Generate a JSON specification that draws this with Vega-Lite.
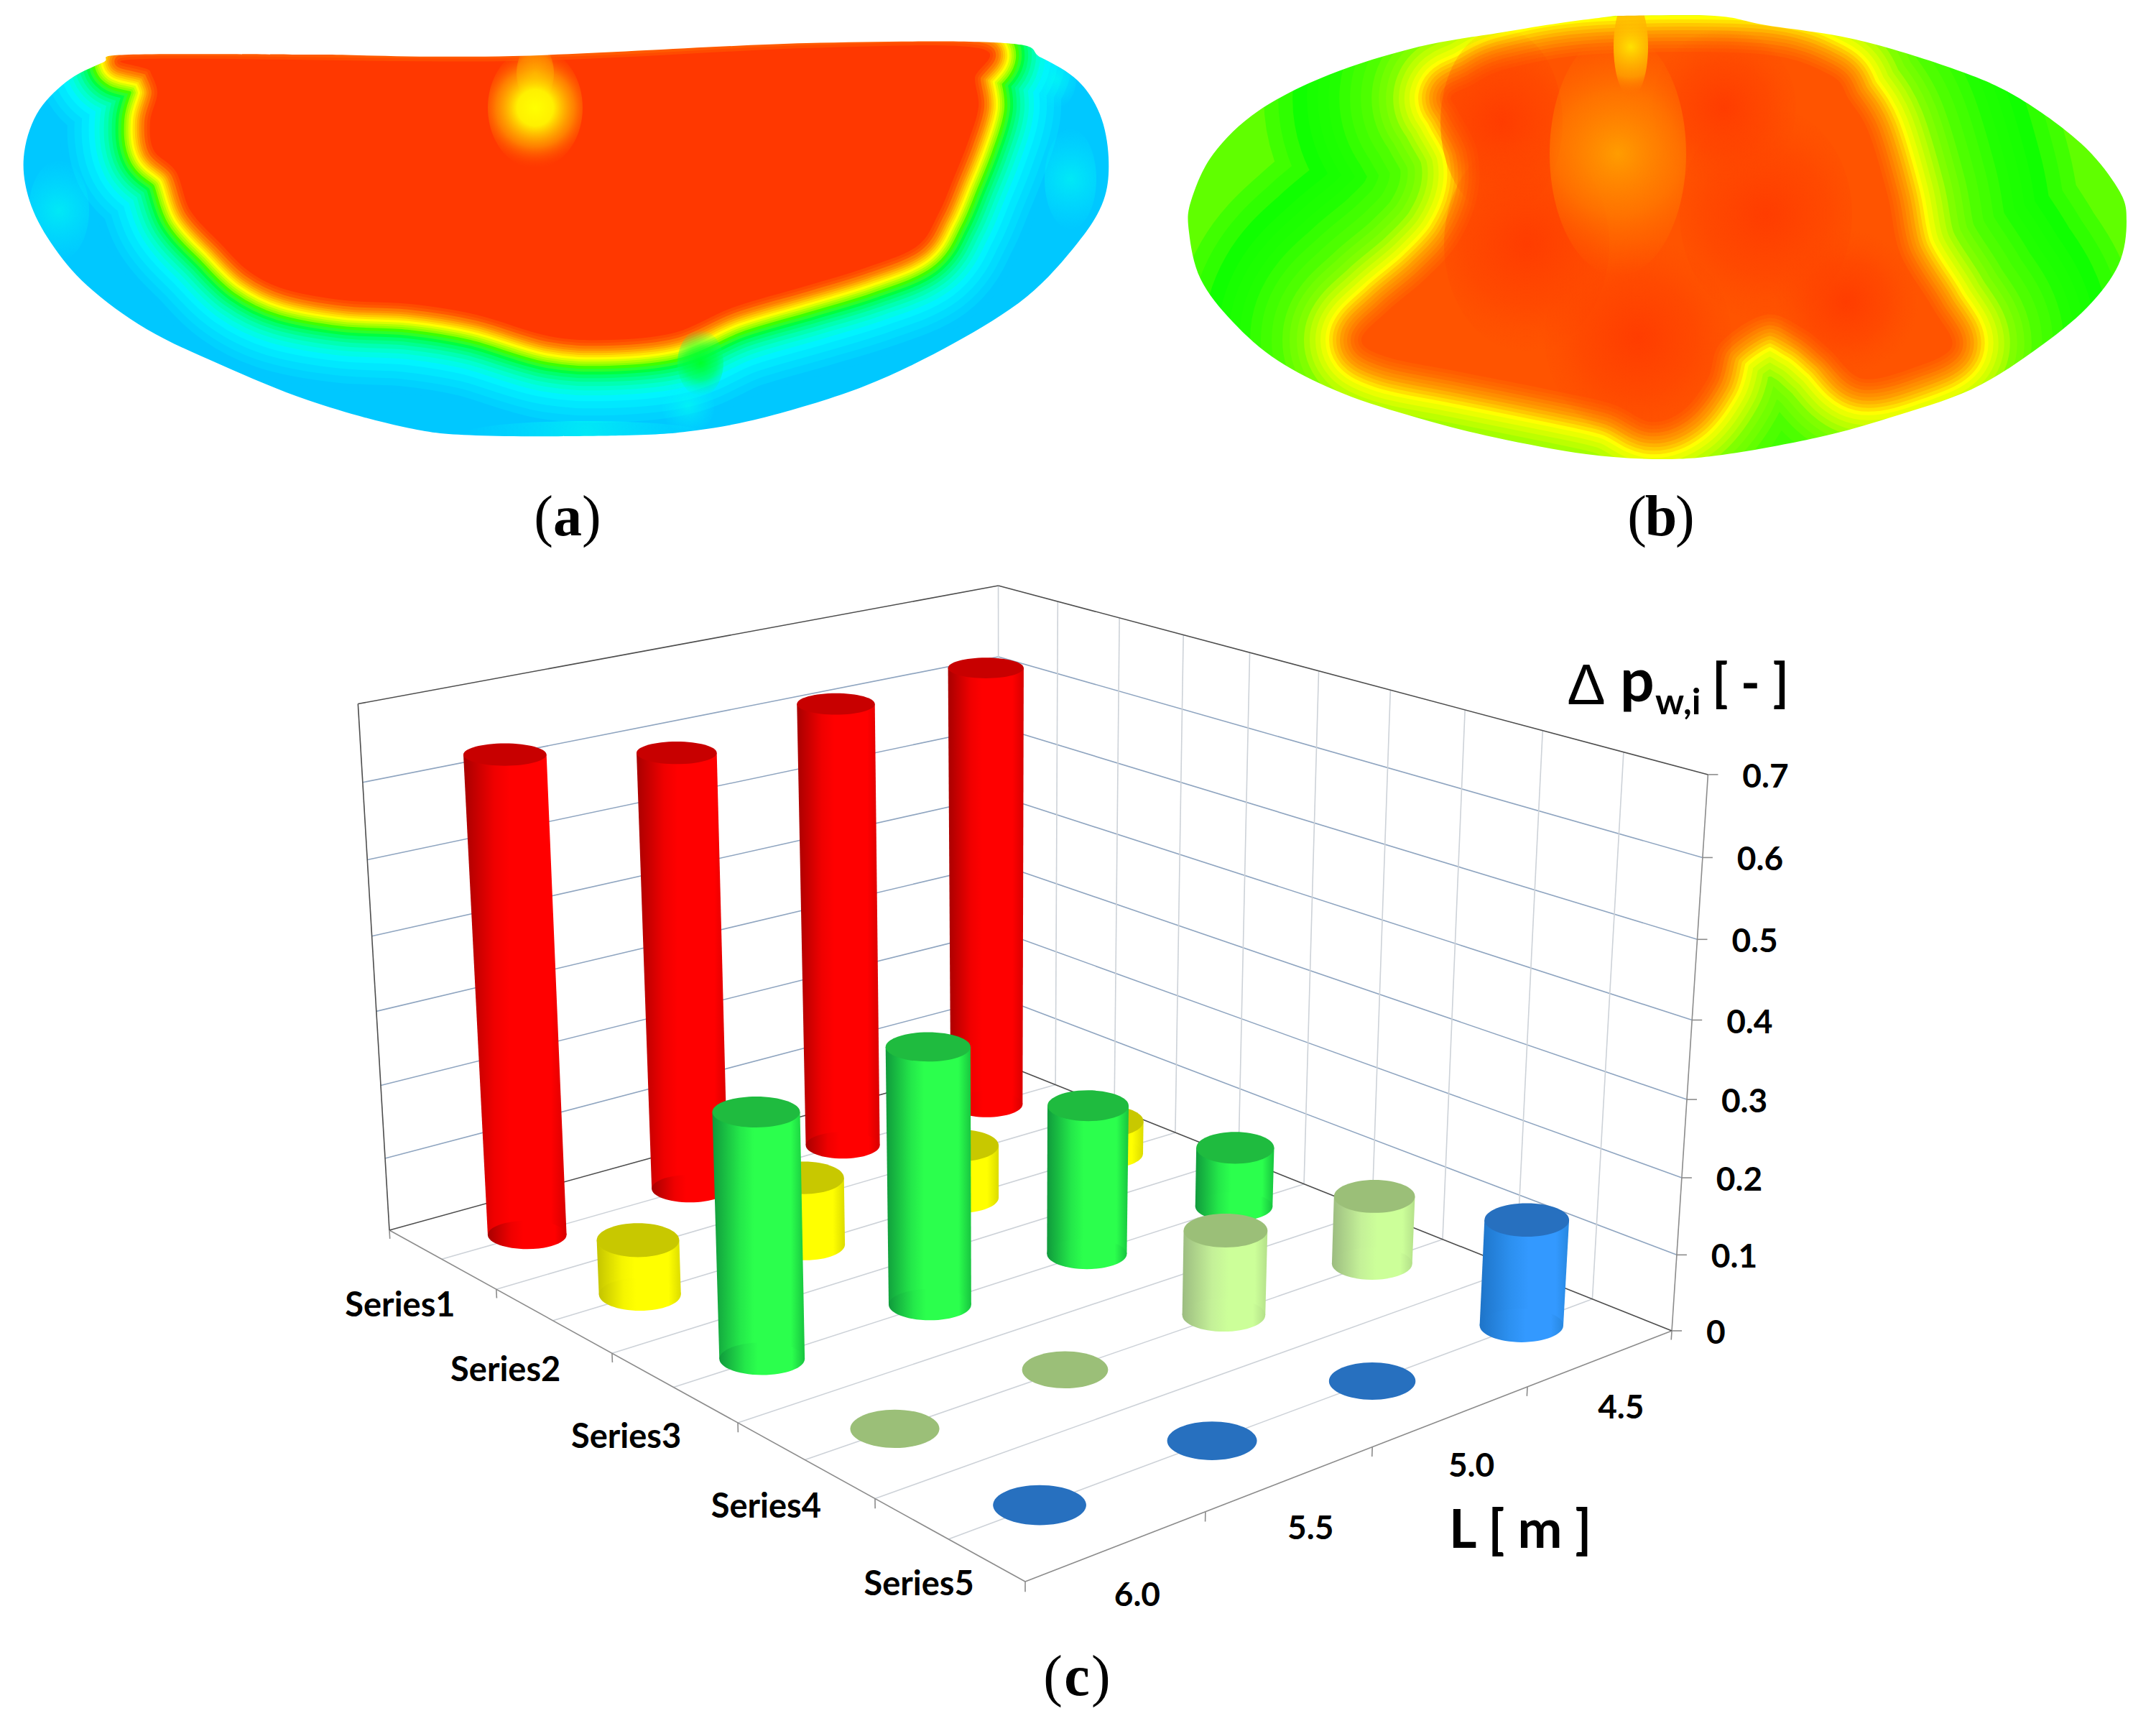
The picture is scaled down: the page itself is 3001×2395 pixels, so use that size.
{
"$schema":"https://vega.github.io/schema/vega-lite/v6.json",
"width":3001,"height":2395,"padding":0,"background":"white",
"autosize":{"type":"none"},
"resolve":{"scale":{"stroke":"independent"}},
"config":{"view":{"stroke":null}},
"datasets":{
"coreA":[{"x":204,"y":82},{"x":714,"y":85},{"x":1122,"y":67},{"x":1362,"y":67},{"x":1357,"y":109},{"x":1362,"y":149},{"x":1347,"y":199},{"x":1327,"y":249},{"x":1306,"y":298},{"x":1276,"y":343},{"x":1204,"y":373},{"x":1122,"y":398},{"x":1020,"y":428},{"x":939,"y":463},{"x":847,"y":473},{"x":765,"y":468},{"x":663,"y":438},{"x":571,"y":423},{"x":480,"y":418},{"x":398,"y":403},{"x":347,"y":378},{"x":306,"y":338},{"x":265,"y":293},{"x":245,"y":239},{"x":214,"y":209},{"x":209,"y":169},{"x":219,"y":129},{"x":209,"y":99}],
"maskA":[{"x":450,"y":0},{"x":450,"y":0},{"x":0,"y":0},{"x":0,"y":0},{"x":0,"y":650},{"x":0,"y":650},{"x":1600,"y":650},{"x":1600,"y":650},{"x":1600,"y":0},{"x":1600,"y":0},{"x":450,"y":0},{"x":450,"y":0},{"x":450,"y":76},{"x":450,"y":76},{"x":450,"y":76},{"x":714,"y":78},{"x":1122,"y":60},{"x":1398,"y":60},{"x":1449,"y":80},{"x":1500,"y":112},{"x":1531,"y":159},{"x":1543,"y":219},{"x":1536,"y":279},{"x":1500,"y":338},{"x":1429,"y":413},{"x":1327,"y":478},{"x":1204,"y":537},{"x":1071,"y":579},{"x":969,"y":599},{"x":867,"y":606},{"x":663,"y":606},{"x":561,"y":594},{"x":429,"y":557},{"x":306,"y":507},{"x":204,"y":458},{"x":122,"y":398},{"x":71,"y":338},{"x":41,"y":279},{"x":33,"y":219},{"x":51,"y":159},{"x":92,"y":114},{"x":143,"y":87},{"x":179,"y":76},{"x":450,"y":76},{"x":450,"y":76},{"x":450,"y":76},{"x":450,"y":0},{"x":450,"y":0}],
"coreB":[{"x":2047,"y":119},{"x":2100,"y":95},{"x":2225,"y":75},{"x":2449,"y":75},{"x":2547,"y":104},{"x":2574,"y":139},{"x":2601,"y":184},{"x":2628,"y":274},{"x":2645,"y":353},{"x":2690,"y":428},{"x":2717,"y":482},{"x":2663,"y":512},{"x":2592,"y":527},{"x":2547,"y":487},{"x":2511,"y":458},{"x":2458,"y":438},{"x":2395,"y":477},{"x":2377,"y":527},{"x":2342,"y":572},{"x":2297,"y":587},{"x":2243,"y":562},{"x":2154,"y":542},{"x":2029,"y":517},{"x":1931,"y":497},{"x":1895,"y":473},{"x":1931,"y":433},{"x":1984,"y":388},{"x":2029,"y":338},{"x":2056,"y":274},{"x":2056,"y":209},{"x":2029,"y":154},{"x":2020,"y":134}],
"maskB":[{"x":1610,"y":0},{"x":1610,"y":0},{"x":1610,"y":860},{"x":1610,"y":860},{"x":3001,"y":860},{"x":3001,"y":860},{"x":3001,"y":0},{"x":3001,"y":0},{"x":1610,"y":0},{"x":1610,"y":0},{"x":2248,"y":22},{"x":2248,"y":22},{"x":2248,"y":22},{"x":2386,"y":22},{"x":2458,"y":35},{"x":2583,"y":55},{"x":2717,"y":95},{"x":2806,"y":134},{"x":2896,"y":199},{"x":2949,"y":264},{"x":2960,"y":308},{"x":2949,"y":368},{"x":2905,"y":428},{"x":2833,"y":487},{"x":2744,"y":542},{"x":2628,"y":582},{"x":2529,"y":609},{"x":2404,"y":632},{"x":2315,"y":639},{"x":2208,"y":632},{"x":2082,"y":609},{"x":1975,"y":582},{"x":1868,"y":547},{"x":1779,"y":502},{"x":1716,"y":448},{"x":1671,"y":388},{"x":1655,"y":323},{"x":1658,"y":279},{"x":1689,"y":214},{"x":1752,"y":154},{"x":1850,"y":104},{"x":1975,"y":65},{"x":2091,"y":45},{"x":2172,"y":32},{"x":2248,"y":22},{"x":2248,"y":22},{"x":2248,"y":22},{"x":1610,"y":0},{"x":1610,"y":0}],
"spots":[
{"g":"plume","x":745,"y":102,"rx":26,"ry":42},
{"g":"yellow","x":745,"y":150,"rx":66,"ry":84},
{"g":"green","x":975,"y":505,"rx":32,"ry":46},
{"g":"cyan","x":958,"y":565,"rx":36,"ry":40},
{"g":"cyan","x":82,"y":293,"rx":42,"ry":70},
{"g":"cyan","x":1490,"y":249,"rx":36,"ry":70},
{"g":"cyan","x":1470,"y":110,"rx":28,"ry":40},
{"g":"cyan","x":816,"y":604,"rx":170,"ry":18},
{"g":"red","x":2090,"y":170,"rx":85,"ry":130},
{"g":"red","x":2125,"y":340,"rx":115,"ry":150},
{"g":"red","x":2280,"y":470,"rx":130,"ry":140},
{"g":"red","x":2458,"y":298,"rx":120,"ry":150},
{"g":"red","x":2400,"y":150,"rx":100,"ry":110},
{"g":"red","x":2570,"y":420,"rx":100,"ry":100},
{"g":"orange","x":2252,"y":214,"rx":95,"ry":170},
{"g":"plume","x":2270,"y":65,"rx":24,"ry":70}
],
"bars":[
{"series":1,"L":4.5,"value":0.628},{"series":1,"L":5.0,"value":0.62},{"series":1,"L":5.5,"value":0.598},{"series":1,"L":6.0,"value":0.64},
{"series":2,"L":4.5,"value":0.047},{"series":2,"L":5.0,"value":0.074},{"series":2,"L":5.5,"value":0.092},{"series":2,"L":6.0,"value":0.073},
{"series":3,"L":4.5,"value":0.083},{"series":3,"L":5.0,"value":0.202},{"series":3,"L":5.5,"value":0.338},{"series":3,"L":6.0,"value":0.315},
{"series":4,"L":4.5,"value":0.092},{"series":4,"L":5.0,"value":0.112},{"series":4,"L":5.5,"value":0},{"series":4,"L":6.0,"value":0},
{"series":5,"L":4.5,"value":0.139},{"series":5,"L":5.0,"value":0},{"series":5,"L":5.5,"value":0},{"series":5,"L":6.0,"value":0}
],
"grid":[
{"g":"wall","u":0,"v":0,"w":0.1,"u2":0,"v2":1,"w2":0.1},{"g":"wall","u":0,"v":0,"w":0.2,"u2":0,"v2":1,"w2":0.2},{"g":"wall","u":0,"v":0,"w":0.3,"u2":0,"v2":1,"w2":0.3},{"g":"wall","u":0,"v":0,"w":0.4,"u2":0,"v2":1,"w2":0.4},{"g":"wall","u":0,"v":0,"w":0.5,"u2":0,"v2":1,"w2":0.5},{"g":"wall","u":0,"v":0,"w":0.6,"u2":0,"v2":1,"w2":0.6},
{"g":"wall","u":0,"v":1,"w":0.1,"u2":1,"v2":1,"w2":0.1},{"g":"wall","u":0,"v":1,"w":0.2,"u2":1,"v2":1,"w2":0.2},{"g":"wall","u":0,"v":1,"w":0.3,"u2":1,"v2":1,"w2":0.3},{"g":"wall","u":0,"v":1,"w":0.4,"u2":1,"v2":1,"w2":0.4},{"g":"wall","u":0,"v":1,"w":0.5,"u2":1,"v2":1,"w2":0.5},{"g":"wall","u":0,"v":1,"w":0.6,"u2":1,"v2":1,"w2":0.6},
{"g":"light","u":0,"v":1,"w":0,"u2":0,"v2":1,"w2":0.7},{"g":"light","u":0.1,"v":1,"w":0,"u2":0.1,"v2":1,"w2":0.7},{"g":"light","u":0.2,"v":1,"w":0,"u2":0.2,"v2":1,"w2":0.7},{"g":"light","u":0.3,"v":1,"w":0,"u2":0.3,"v2":1,"w2":0.7},{"g":"light","u":0.4,"v":1,"w":0,"u2":0.4,"v2":1,"w2":0.7},{"g":"light","u":0.5,"v":1,"w":0,"u2":0.5,"v2":1,"w2":0.7},{"g":"light","u":0.6,"v":1,"w":0,"u2":0.6,"v2":1,"w2":0.7},{"g":"light","u":0.7,"v":1,"w":0,"u2":0.7,"v2":1,"w2":0.7},{"g":"light","u":0.8,"v":1,"w":0,"u2":0.8,"v2":1,"w2":0.7},{"g":"light","u":0.9,"v":1,"w":0,"u2":0.9,"v2":1,"w2":0.7},
{"g":"light","u":0.1,"v":0,"w":0,"u2":0.1,"v2":1,"w2":0},{"g":"light","u":0.2,"v":0,"w":0,"u2":0.2,"v2":1,"w2":0},{"g":"light","u":0.3,"v":0,"w":0,"u2":0.3,"v2":1,"w2":0},{"g":"light","u":0.4,"v":0,"w":0,"u2":0.4,"v2":1,"w2":0},{"g":"light","u":0.5,"v":0,"w":0,"u2":0.5,"v2":1,"w2":0},{"g":"light","u":0.6,"v":0,"w":0,"u2":0.6,"v2":1,"w2":0},{"g":"light","u":0.7,"v":0,"w":0,"u2":0.7,"v2":1,"w2":0},{"g":"light","u":0.8,"v":0,"w":0,"u2":0.8,"v2":1,"w2":0},{"g":"light","u":0.9,"v":0,"w":0,"u2":0.9,"v2":1,"w2":0},
{"g":"edge","u":0,"v":0,"w":0,"u2":1,"v2":0,"w2":0},{"g":"edge","u":1,"v":0,"w":0,"u2":1,"v2":1,"w2":0},{"g":"edge","u":1,"v":1,"w":0,"u2":1,"v2":1,"w2":0.7},
{"g":"dark","u":0,"v":1,"w":0,"u2":1,"v2":1,"w2":0},{"g":"dark","u":0,"v":0,"w":0,"u2":0,"v2":1,"w2":0},{"g":"dark","u":0,"v":0,"w":0.7,"u2":0,"v2":1,"w2":0.7},{"g":"dark","u":0,"v":1,"w":0.7,"u2":1,"v2":1,"w2":0.7},{"g":"dark","u":0,"v":0,"w":0,"u2":0,"v2":0,"w2":0.7},
{"g":"edge","u":0,"v":0,"w":0,"u2":0,"v2":0,"w2":-0.012},{"g":"edge","u":0.2,"v":0,"w":0,"u2":0.2,"v2":0,"w2":-0.012},{"g":"edge","u":0.4,"v":0,"w":0,"u2":0.4,"v2":0,"w2":-0.012},{"g":"edge","u":0.6,"v":0,"w":0,"u2":0.6,"v2":0,"w2":-0.012},{"g":"edge","u":0.8,"v":0,"w":0,"u2":0.8,"v2":0,"w2":-0.012},{"g":"edge","u":1,"v":0,"w":0,"u2":1,"v2":0,"w2":-0.012},
{"g":"edge","u":1,"v":0.25,"w":0,"u2":1,"v2":0.25,"w2":-0.012},{"g":"edge","u":1,"v":0.5,"w":0,"u2":1,"v2":0.5,"w2":-0.012},{"g":"edge","u":1,"v":0.75,"w":0,"u2":1,"v2":0.75,"w2":-0.012},{"g":"edge","u":1,"v":1,"w":0,"u2":1,"v2":1,"w2":-0.012},
{"g":"tickR","u":1,"v":1,"w":0,"u2":1,"v2":1,"w2":0},{"g":"tickR","u":1,"v":1,"w":0.1,"u2":1,"v2":1,"w2":0.1},{"g":"tickR","u":1,"v":1,"w":0.2,"u2":1,"v2":1,"w2":0.2},{"g":"tickR","u":1,"v":1,"w":0.3,"u2":1,"v2":1,"w2":0.3},{"g":"tickR","u":1,"v":1,"w":0.4,"u2":1,"v2":1,"w2":0.4},{"g":"tickR","u":1,"v":1,"w":0.5,"u2":1,"v2":1,"w2":0.5},{"g":"tickR","u":1,"v":1,"w":0.6,"u2":1,"v2":1,"w2":0.6},{"g":"tickR","u":1,"v":1,"w":0.7,"u2":1,"v2":1,"w2":0.7}
]
},
"encoding":{
"x":{"field":"x","type":"quantitative","scale":{"domain":[0,3001],"nice":false,"zero":false},"axis":null},
"y":{"field":"y","type":"quantitative","scale":{"domain":[2395,0],"nice":false,"zero":false},"axis":null}
},
"layer":[
{"data":{"values":[{"x":0,"x2":1600,"y":0,"y2":650}]},"mark":{"type":"rect","color":"#00c8ff"},"encoding":{"x2":{"field":"x2"},"y2":{"field":"y2"}}},
{"data":{"name":"coreA"},"transform":[{"window":[{"op":"row_number","as":"i"}]},{"calculate":"[125,115,105,95,85,77,70,64,58,53,48,44,40,36,33,30,27,24,21,18,15,12,8,4]","as":"d"},{"flatten":["d"]},{"calculate":"2*datum.d","as":"sw"}],
 "mark":{"type":"line","interpolate":"cardinal-closed","strokeJoin":"round"},
 "encoding":{"order":{"field":"i"},"detail":{"field":"d","type":"nominal"},
 "strokeWidth":{"field":"sw","type":"quantitative","scale":null,"legend":null},
 "stroke":{"field":"d","type":"quantitative","legend":null,"scale":{"type":"linear","domain":[0,8,15,21,27,33,40,48,58,70,85,105,125],"range":["#ff3800","#ff5a00","#ff9000","#ffc800","#ffff00","#b0ff00","#40ff00","#00ff40","#00ff90","#00ffd0","#00f4ff","#00dcff","#00c8ff"]}}}},
{"data":{"name":"coreA"},"transform":[{"window":[{"op":"row_number","as":"i"}]}],"mark":{"type":"line","interpolate":"cardinal-closed","fill":"#ff3800","stroke":"transparent"},"encoding":{"order":{"field":"i"}}},

{"data":{"values":[{"x":1610,"x2":3001,"y":0,"y2":800}]},"mark":{"type":"rect","color":"#60ff00"},"encoding":{"x2":{"field":"x2"},"y2":{"field":"y2"}}},
{"data":{"name":"coreB"},"transform":[{"window":[{"op":"row_number","as":"i"}]},{"calculate":"[260,240,220,200,185,170,155,140,125,110,100,90,80,72,64,57,50,45,40,35,30,25,20,15,10,5]","as":"d"},{"flatten":["d"]},{"calculate":"2*datum.d","as":"sw"}],
 "mark":{"type":"line","interpolate":"cardinal-closed","strokeJoin":"round"},
 "encoding":{"order":{"field":"i"},"detail":{"field":"d","type":"nominal"},
 "strokeWidth":{"field":"sw","type":"quantitative","scale":null,"legend":null},
 "stroke":{"field":"d","type":"quantitative","legend":null,"scale":{"type":"linear","domain":[0,15,30,42,50,65,90,120,170,220,260],"range":["#ff5400","#ff7000","#ff9c00","#ffd000","#ffff00","#d0ff00","#80ff00","#50ff00","#20ff00","#10ff00","#40ff00"]}}}},
{"data":{"name":"coreB"},"transform":[{"window":[{"op":"row_number","as":"i"}]}],"mark":{"type":"line","interpolate":"cardinal-closed","fill":"#ff5400","stroke":"transparent"},"encoding":{"order":{"field":"i"}}},

{"data":{"name":"spots"},"transform":[{"calculate":"4*datum.rx*datum.rx","as":"sz"},{"calculate":"datum.ry/datum.rx","as":"k"},{"calculate":"'M-1 0 A1 '+datum.k+' 0 1 0 1 0 A1 '+datum.k+' 0 1 0 -1 0 Z'","as":"path"}],
 "encoding":{"size":{"field":"sz","type":"quantitative","scale":null,"legend":null},"shape":{"field":"path","type":"nominal","scale":null,"legend":null}},
 "layer":[
 {"transform":[{"filter":"datum.g=='red'"}],"mark":{"type":"point","filled":true,"opacity":1,"strokeWidth":0,"fill":{"gradient":"radial","x1":0.5,"y1":0.5,"r1":0,"x2":0.5,"y2":0.5,"r2":0.5,"stops":[{"offset":0,"color":"rgba(255,58,0,0.9)"},{"offset":0.55,"color":"rgba(255,62,0,0.5)"},{"offset":1,"color":"rgba(255,70,0,0)"}]}}},
 {"transform":[{"filter":"datum.g=='orange'"}],"mark":{"type":"point","filled":true,"opacity":1,"strokeWidth":0,"fill":{"gradient":"radial","x1":0.5,"y1":0.5,"r1":0,"x2":0.5,"y2":0.5,"r2":0.5,"stops":[{"offset":0,"color":"rgba(255,160,0,0.95)"},{"offset":0.5,"color":"rgba(255,140,0,0.55)"},{"offset":1,"color":"rgba(255,110,0,0)"}]}}},
 {"transform":[{"filter":"datum.g=='plume'"}],"mark":{"type":"point","filled":true,"opacity":1,"strokeWidth":0,"fill":{"gradient":"radial","x1":0.5,"y1":0.5,"r1":0,"x2":0.5,"y2":0.5,"r2":0.5,"stops":[{"offset":0,"color":"rgba(255,225,0,1)"},{"offset":0.6,"color":"rgba(255,170,0,0.7)"},{"offset":1,"color":"rgba(255,100,0,0)"}]}}},
 {"transform":[{"filter":"datum.g=='yellow'"}],"mark":{"type":"point","filled":true,"opacity":1,"strokeWidth":0,"fill":{"gradient":"radial","x1":0.5,"y1":0.5,"r1":0,"x2":0.5,"y2":0.5,"r2":0.5,"stops":[{"offset":0,"color":"#ffff00"},{"offset":0.3,"color":"#fff000"},{"offset":0.65,"color":"rgba(255,150,0,0.75)"},{"offset":1,"color":"rgba(255,70,0,0)"}]}}},
 {"transform":[{"filter":"datum.g=='cyan'"}],"mark":{"type":"point","filled":true,"opacity":1,"strokeWidth":0,"fill":{"gradient":"radial","x1":0.5,"y1":0.5,"r1":0,"x2":0.5,"y2":0.5,"r2":0.5,"stops":[{"offset":0,"color":"rgba(0,255,240,0.6)"},{"offset":1,"color":"rgba(0,240,255,0)"}]}}},
 {"transform":[{"filter":"datum.g=='green'"}],"mark":{"type":"point","filled":true,"opacity":1,"strokeWidth":0,"fill":{"gradient":"radial","x1":0.5,"y1":0.5,"r1":0,"x2":0.5,"y2":0.5,"r2":0.5,"stops":[{"offset":0,"color":"rgba(0,255,40,0.95)"},{"offset":0.5,"color":"rgba(0,255,70,0.6)"},{"offset":1,"color":"rgba(0,255,160,0)"}]}}}
 ]},
{"data":{"name":"maskA"},"transform":[{"window":[{"op":"row_number","as":"i"}]}],"mark":{"type":"line","interpolate":"cardinal","fill":"white","stroke":"transparent"},"encoding":{"order":{"field":"i"}}},
{"data":{"name":"maskB"},"transform":[{"window":[{"op":"row_number","as":"i"}]}],"mark":{"type":"line","interpolate":"cardinal","fill":"white","stroke":"transparent"},"encoding":{"order":{"field":"i"}}},

{"data":{"values":[{"p":"a","x":790,"y":721},{"p":"b","x":2312,"y":721},{"p":"c","x":1499,"y":2335}]},
 "transform":[{"calculate":"'('","as":"open"},{"calculate":"')'","as":"close"}],
 "layer":[
 {"mark":{"type":"text","font":"Liberation Serif","fontSize":80,"align":"right","baseline":"middle","dx":-20,"color":"black"},"encoding":{"text":{"field":"open"}}},
 {"mark":{"type":"text","font":"Liberation Serif","fontSize":80,"fontWeight":"bold","align":"center","baseline":"middle","color":"black"},"encoding":{"text":{"field":"p"}}},
 {"mark":{"type":"text","font":"Liberation Serif","fontSize":80,"align":"left","baseline":"middle","dx":20,"color":"black"},"encoding":{"text":{"field":"close"}}}
 ]},

{"data":{"name":"grid"},"transform":[
 {"calculate":"1-0.19168*datum.u+0.12862*datum.v","as":"den"},
 {"calculate":"(611.5*datum.u+1026.8*datum.v+542)/datum.den","as":"fx"},
 {"calculate":"(67.1*datum.u-43.9*datum.v+1712)/datum.den","as":"fy"},
 {"calculate":"(663+0.297*(datum.fy-1478))*(datum.w/0.7)*(1+0.052*(datum.w/0.7-1))","as":"hh"},
 {"calculate":"datum.fx-(1400-datum.fx)*datum.hh/(16100-datum.fy)","as":"x"},
 {"calculate":"datum.fy-datum.hh","as":"y"},
 {"calculate":"1-0.19168*datum.u2+0.12862*datum.v2","as":"den2"},
 {"calculate":"(611.5*datum.u2+1026.8*datum.v2+542)/datum.den2","as":"fx2"},
 {"calculate":"(67.1*datum.u2-43.9*datum.v2+1712)/datum.den2","as":"fy2"},
 {"calculate":"(663+0.297*(datum.fy2-1478))*(datum.w2/0.7)*(1+0.052*(datum.w2/0.7-1))","as":"hh2"},
 {"calculate":"datum.g=='tickR'?datum.x+14:datum.fx2-(1400-datum.fx2)*datum.hh2/(16100-datum.fy2)","as":"xe"},
 {"calculate":"datum.fy2-datum.hh2","as":"ye"}],
 "mark":{"type":"rule","strokeWidth":1.6},
 "encoding":{"x2":{"field":"xe"},"y2":{"field":"ye"},
 "color":{"field":"g","type":"nominal","legend":null,"scale":{"domain":["wall","light","edge","dark","tickR"],"range":["#8fa5c0","#cdd2d8","#8c8c8c","#4d4d4d","#8c8c8c"]}}}},

{"data":{"name":"bars"},"transform":[
 {"calculate":"datum.value","as":"w"},
 {"calculate":"(datum.series-0.5)/5","as":"u"},
 {"calculate":"(6-datum.L)*0.5+0.125","as":"v"},
 {"calculate":"1-0.19168*datum.u+0.12862*datum.v","as":"den"},
 {"calculate":"(611.5*datum.u+1026.8*datum.v+542)/datum.den","as":"fx"},
 {"calculate":"(67.1*datum.u-43.9*datum.v+1712)/datum.den","as":"fy"},
 {"calculate":"(663+0.297*(datum.fy-1478))*(datum.w/0.7)*(1+0.052*(datum.w/0.7-1))","as":"hh"},
 {"calculate":"datum.fx-(1400-datum.fx)*datum.hh/(16100-datum.fy)","as":"tx"},
 {"calculate":"datum.fy-datum.hh","as":"ty"},
 {"calculate":"100+0.0533*(datum.fy-1537)","as":"wb"},
 {"calculate":"datum.wb*(1+0.085*datum.w)","as":"wt"},
 {"calculate":"datum.wb*datum.wb","as":"sb"},
 {"calculate":"datum.wt*datum.wt","as":"st"},
 {"calculate":"0.43-0.25*datum.w","as":"at"},
 {"calculate":"'M-1 0 A1 '+datum.at+' 0 1 0 1 0 A1 '+datum.at+' 0 1 0 -1 0 Z'","as":"topPath"},
 {"calculate":"[0,1,2,3,4,5]","as":"c"},
 {"flatten":["c"]},
 {"calculate":"datum.c==0?datum.tx-datum.wt/2:datum.c==1?datum.tx+datum.wt/2:datum.c==2?datum.fx+datum.wb/2:datum.c==3?datum.fx-datum.wb/2:datum.c==4?datum.fx:datum.tx","as":"x"},
 {"calculate":"datum.c<2||datum.c==5?datum.ty:datum.fy","as":"y"}],
 "layer":[
 {"transform":[{"filter":"datum.series==1"}],"layer":[
  {"transform":[{"filter":"datum.c<4&&datum.w>0"}],"mark":{"type":"line","stroke":"transparent","fill":{"gradient":"linear","x1":0,"y1":0,"x2":1,"y2":0,"stops":[{"offset":0,"color":"#a80000"},{"offset":0.3,"color":"#f00000"},{"offset":0.45,"color":"#ff0000"},{"offset":0.85,"color":"#ff0000"},{"offset":1,"color":"#d80000"}]}},"encoding":{"order":{"field":"c"},"detail":{"field":"L","type":"nominal"}}},
  {"transform":[{"filter":"datum.c==4&&datum.w>0"}],"mark":{"type":"point","filled":true,"opacity":1,"strokeWidth":0,"shape":"M-1 0 A1 0.36 0 1 0 1 0 A1 0.36 0 1 0 -1 0 Z","fill":{"gradient":"linear","x1":0,"y1":0,"x2":1,"y2":0,"stops":[{"offset":0,"color":"#a80000"},{"offset":0.3,"color":"#f00000"},{"offset":0.45,"color":"#ff0000"},{"offset":0.85,"color":"#ff0000"},{"offset":1,"color":"#d80000"}]}},"encoding":{"size":{"field":"sb","type":"quantitative","scale":null,"legend":null}}},
  {"transform":[{"filter":"datum.c==5"}],"mark":{"type":"point","filled":true,"opacity":1,"strokeWidth":0,"fill":"#c80000"},"encoding":{"size":{"field":"st","type":"quantitative","scale":null,"legend":null},"shape":{"field":"topPath","type":"nominal","scale":null,"legend":null}}}
 ]},
 {"transform":[{"filter":"datum.series==2"}],"layer":[
  {"transform":[{"filter":"datum.c<4&&datum.w>0"}],"mark":{"type":"line","stroke":"transparent","fill":{"gradient":"linear","x1":0,"y1":0,"x2":1,"y2":0,"stops":[{"offset":0,"color":"#c4c400"},{"offset":0.3,"color":"#f5f500"},{"offset":0.45,"color":"#ffff00"},{"offset":0.85,"color":"#ffff00"},{"offset":1,"color":"#dcdc00"}]}},"encoding":{"order":{"field":"c"},"detail":{"field":"L","type":"nominal"}}},
  {"transform":[{"filter":"datum.c==4&&datum.w>0"}],"mark":{"type":"point","filled":true,"opacity":1,"strokeWidth":0,"shape":"M-1 0 A1 0.4 0 1 0 1 0 A1 0.4 0 1 0 -1 0 Z","fill":{"gradient":"linear","x1":0,"y1":0,"x2":1,"y2":0,"stops":[{"offset":0,"color":"#c4c400"},{"offset":0.3,"color":"#f5f500"},{"offset":0.45,"color":"#ffff00"},{"offset":0.85,"color":"#ffff00"},{"offset":1,"color":"#dcdc00"}]}},"encoding":{"size":{"field":"sb","type":"quantitative","scale":null,"legend":null}}},
  {"transform":[{"filter":"datum.c==5"}],"mark":{"type":"point","filled":true,"opacity":1,"strokeWidth":0,"fill":"#c8c800"},"encoding":{"size":{"field":"st","type":"quantitative","scale":null,"legend":null},"shape":{"field":"topPath","type":"nominal","scale":null,"legend":null}}}
 ]},
 {"transform":[{"filter":"datum.series==3"}],"layer":[
  {"transform":[{"filter":"datum.c<4&&datum.w>0"}],"mark":{"type":"line","stroke":"transparent","fill":{"gradient":"linear","x1":0,"y1":0,"x2":1,"y2":0,"stops":[{"offset":0,"color":"#109a3c"},{"offset":0.3,"color":"#24e84a"},{"offset":0.45,"color":"#2bff4d"},{"offset":0.85,"color":"#2bff4d"},{"offset":1,"color":"#18c440"}]}},"encoding":{"order":{"field":"c"},"detail":{"field":"L","type":"nominal"}}},
  {"transform":[{"filter":"datum.c==4&&datum.w>0"}],"mark":{"type":"point","filled":true,"opacity":1,"strokeWidth":0,"shape":"M-1 0 A1 0.38 0 1 0 1 0 A1 0.38 0 1 0 -1 0 Z","fill":{"gradient":"linear","x1":0,"y1":0,"x2":1,"y2":0,"stops":[{"offset":0,"color":"#109a3c"},{"offset":0.3,"color":"#24e84a"},{"offset":0.45,"color":"#2bff4d"},{"offset":0.85,"color":"#2bff4d"},{"offset":1,"color":"#18c440"}]}},"encoding":{"size":{"field":"sb","type":"quantitative","scale":null,"legend":null}}},
  {"transform":[{"filter":"datum.c==5"}],"mark":{"type":"point","filled":true,"opacity":1,"strokeWidth":0,"fill":"#1fbb3f"},"encoding":{"size":{"field":"st","type":"quantitative","scale":null,"legend":null},"shape":{"field":"topPath","type":"nominal","scale":null,"legend":null}}}
 ]},
 {"transform":[{"filter":"datum.series==4"}],"layer":[
  {"transform":[{"filter":"datum.c<4&&datum.w>0"}],"mark":{"type":"line","stroke":"transparent","fill":{"gradient":"linear","x1":0,"y1":0,"x2":1,"y2":0,"stops":[{"offset":0,"color":"#9cbc80"},{"offset":0.35,"color":"#c4f098"},{"offset":0.55,"color":"#ccff99"},{"offset":0.85,"color":"#ccff99"},{"offset":1,"color":"#b4e08a"}]}},"encoding":{"order":{"field":"c"},"detail":{"field":"L","type":"nominal"}}},
  {"transform":[{"filter":"datum.c==4&&datum.w>0"}],"mark":{"type":"point","filled":true,"opacity":1,"strokeWidth":0,"shape":"M-1 0 A1 0.4 0 1 0 1 0 A1 0.4 0 1 0 -1 0 Z","fill":{"gradient":"linear","x1":0,"y1":0,"x2":1,"y2":0,"stops":[{"offset":0,"color":"#9cbc80"},{"offset":0.35,"color":"#c4f098"},{"offset":0.55,"color":"#ccff99"},{"offset":0.85,"color":"#ccff99"},{"offset":1,"color":"#b4e08a"}]}},"encoding":{"size":{"field":"sb","type":"quantitative","scale":null,"legend":null}}},
  {"transform":[{"filter":"datum.c==5"}],"mark":{"type":"point","filled":true,"opacity":1,"strokeWidth":0,"fill":"#9bbf78"},"encoding":{"size":{"field":"st","type":"quantitative","scale":null,"legend":null},"shape":{"field":"topPath","type":"nominal","scale":null,"legend":null}}}
 ]},
 {"transform":[{"filter":"datum.series==5"}],"layer":[
  {"transform":[{"filter":"datum.c<4&&datum.w>0"}],"mark":{"type":"line","stroke":"transparent","fill":{"gradient":"linear","x1":0,"y1":0,"x2":1,"y2":0,"stops":[{"offset":0,"color":"#1e74c8"},{"offset":0.35,"color":"#2c90f0"},{"offset":0.55,"color":"#3399ff"},{"offset":0.85,"color":"#3399ff"},{"offset":1,"color":"#2888e0"}]}},"encoding":{"order":{"field":"c"},"detail":{"field":"L","type":"nominal"}}},
  {"transform":[{"filter":"datum.c==4&&datum.w>0"}],"mark":{"type":"point","filled":true,"opacity":1,"strokeWidth":0,"shape":"M-1 0 A1 0.4 0 1 0 1 0 A1 0.4 0 1 0 -1 0 Z","fill":{"gradient":"linear","x1":0,"y1":0,"x2":1,"y2":0,"stops":[{"offset":0,"color":"#1e74c8"},{"offset":0.35,"color":"#2c90f0"},{"offset":0.55,"color":"#3399ff"},{"offset":0.85,"color":"#3399ff"},{"offset":1,"color":"#2888e0"}]}},"encoding":{"size":{"field":"sb","type":"quantitative","scale":null,"legend":null}}},
  {"transform":[{"filter":"datum.c==5"}],"mark":{"type":"point","filled":true,"opacity":1,"strokeWidth":0,"fill":"#2770bf"},"encoding":{"size":{"field":"st","type":"quantitative","scale":null,"legend":null},"shape":{"field":"topPath","type":"nominal","scale":null,"legend":null}}}
 ]}
 ]},

{"data":{"values":[{"label":"0","w":0},{"label":"0.1","w":0.1},{"label":"0.2","w":0.2},{"label":"0.3","w":0.3},{"label":"0.4","w":0.4},{"label":"0.5","w":0.5},{"label":"0.6","w":0.6},{"label":"0.7","w":0.7}]},
 "transform":[{"calculate":"(663+0.297*374)*(datum.w/0.7)*(1+0.052*(datum.w/0.7-1))","as":"hh"},{"calculate":"2327-(1400-2327)*datum.hh/(16100-1852)","as":"x"},{"calculate":"1852-datum.hh","as":"y"}],
 "mark":{"type":"text","font":"Lato","fontWeight":"bold","fontSize":46,"align":"left","baseline":"middle","dx":48,"dy":4,"color":"black"},"encoding":{"text":{"field":"label"}}},
{"data":{"values":[{"series":1},{"series":2},{"series":3},{"series":4},{"series":5}]},
 "transform":[{"calculate":"'Series'+datum.series","as":"label"},{"calculate":"(datum.series-0.5)/5","as":"u"},{"calculate":"1-0.19168*datum.u","as":"den"},{"calculate":"(611.5*datum.u+542)/datum.den+[0,-8,-8,4,17][datum.series-1]","as":"x"},{"calculate":"(67.1*datum.u+1712)/datum.den+[2,6,6,2,0][datum.series-1]","as":"y"}],
 "mark":{"type":"text","font":"Lato","fontWeight":"bold","fontSize":47,"align":"center","baseline":"middle","dx":-58,"dy":64,"color":"black"},"encoding":{"text":{"field":"label"}}},
{"data":{"values":[{"label":"6.0","L":6.0},{"label":"5.5","L":5.5},{"label":"5.0","L":5.0},{"label":"4.5","L":4.5}]},
 "transform":[{"calculate":"(6-datum.L)*0.5+0.125","as":"v"},{"calculate":"0.80832+0.12862*datum.v","as":"den"},{"calculate":"(611.5+1026.8*datum.v+542)/datum.den","as":"x"},{"calculate":"(67.1-43.9*datum.v+1712)/datum.den","as":"y"}],
 "mark":{"type":"text","font":"Lato","fontWeight":"bold","fontSize":46,"align":"center","baseline":"middle","dx":28,"dy":70,"color":"black"},"encoding":{"text":{"field":"label"}}},
{"data":{"values":[{"label":"Δ","x":2208,"y":980}]},"mark":{"type":"text","font":"Liberation Sans","fontSize":80,"align":"center","baseline":"alphabetic","color":"black"},"encoding":{"text":{"field":"label"}}},
{"data":{"values":[{"label":"p","x":2255,"y":976}]},"mark":{"type":"text","font":"Lato","fontWeight":"bold","fontSize":84,"align":"left","baseline":"alphabetic","color":"black"},"encoding":{"text":{"field":"label"}}},
{"data":{"values":[{"label":"w,i","x":2304,"y":994}]},"mark":{"type":"text","font":"Lato","fontWeight":"bold","fontSize":50,"align":"left","baseline":"alphabetic","color":"black"},"encoding":{"text":{"field":"label"}}},
{"data":{"values":[{"label":"[ - ]","x":2383,"y":976}]},"mark":{"type":"text","font":"Lato","fontWeight":"bold","fontSize":72,"align":"left","baseline":"alphabetic","color":"black"},"encoding":{"text":{"field":"label"}}},
{"data":{"values":[{"label":"L [ m ]","x":2017,"y":2154}]},"mark":{"type":"text","font":"Lato","fontWeight":"bold","fontSize":74,"align":"left","baseline":"alphabetic","color":"black"},"encoding":{"text":{"field":"label"}}}
]
}
